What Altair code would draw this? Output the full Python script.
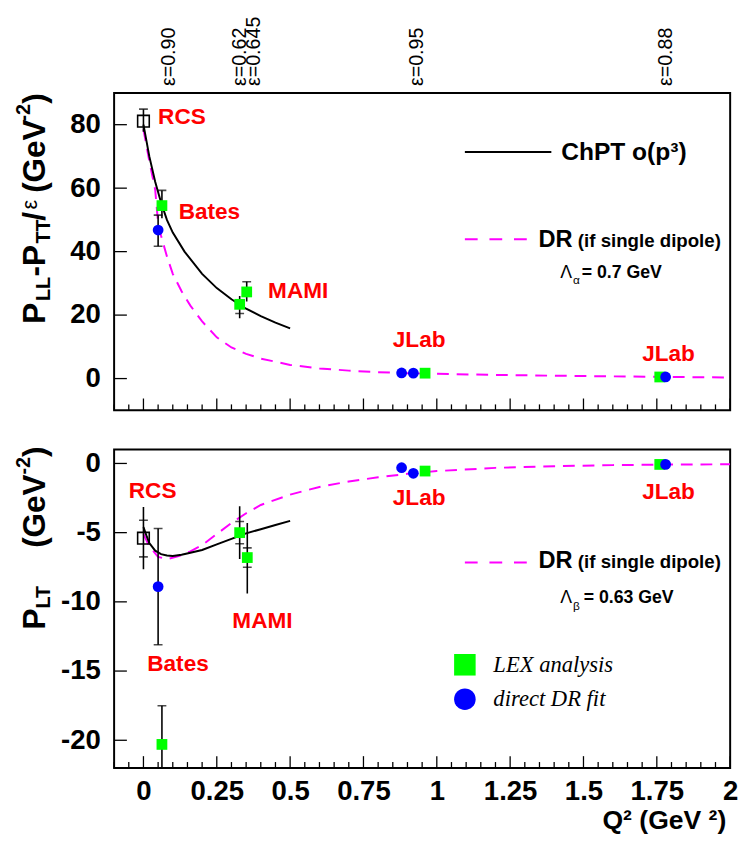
import altair as alt
import pandas as pd

# ---------------- data ----------------
X_DOMAIN = [-0.1, 2.0]
TOP_Y_DOMAIN = [-10, 90]
BOT_Y_DOMAIN = [-22, 1]

x_major = [0, 0.25, 0.5, 0.75, 1.0, 1.25, 1.5, 1.75, 2.0]
x_minor = [-0.1, -0.05, 0.05, 0.1, 0.15, 0.2, 0.3, 0.35, 0.4, 0.45, 0.55, 0.6, 0.65, 0.7,
           0.8, 0.85, 0.9, 0.95, 1.05, 1.1, 1.15, 1.2, 1.3, 1.35, 1.4, 1.45, 1.55, 1.6,
           1.65, 1.7, 1.8, 1.85, 1.9, 1.95]
top_y_ticks = [0, 20, 40, 60, 80]
bot_y_ticks = [0, -5, -10, -15, -20]

# top panel: P_LL - P_TT/eps
top_chpt_x = [0, 0.02, 0.04, 0.06, 0.08, 0.1, 0.14, 0.2, 0.25, 0.3, 0.35, 0.4, 0.45, 0.5]
top_chpt_y = [80, 70, 62, 55.5, 50, 46, 40, 33, 28.5, 25, 22, 19.7, 17.6, 15.8]
top_drc_x = [0, 0.02, 0.04, 0.05, 0.06, 0.08, 0.1, 0.13, 0.16, 0.2, 0.25, 0.3, 0.35, 0.4,
             0.5, 0.6, 0.7, 0.8, 0.9, 1.0, 1.2, 1.4, 1.6, 1.8, 2.0]
top_drc_y = [78.5, 68.5, 59.5, 49, 45, 38.5, 33, 27.5, 23, 18, 13, 9.8, 7.8, 6.3,
             4.3, 3.2, 2.5, 2.0, 1.7, 1.5, 1.15, 0.9, 0.7, 0.5, 0.35]

top_lex_x = [0.063, 0.328, 0.352, 0.96, 1.76]
top_lex_y = [54.5, 23.4, 27.3, 1.7, 0.5]
top_fit_x = [0.05, 0.88, 0.92, 1.78]
top_fit_y = [46.8, 1.76, 1.7, 0.5]
top_rcs_x = [0.0]
top_rcs_y = [81.1]
top_err_x = [0.0, 0.063, 0.05, 0.328, 0.352]
top_err_lo = [77.8, 50.5, 41.7, 19.0, 24.3]
top_err_hi = [84.9, 59.3, 51.5, 26.0, 30.5]
top_cap_x = [0.0, 0.063, 0.05, 0.05, 0.328, 0.352]
top_cap_y = [84.9, 59.3, 51.5, 41.7, 20.5, 30.5]

top_lab = ["RCS", "Bates", "MAMI", "JLab", "JLab"]
top_lab_x = [0.05, 0.12, 0.425, 0.85, 1.70]
top_lab_y = [82.4, 52.6, 27.4, 12.0, 7.7]

eps_lab = ["ε=0.90", "ε=0.62", "ε=0.645", "ε=0.95", "ε=0.88"]
eps_x = [0.087, 0.328, 0.378, 0.934, 1.78]

# bottom panel: P_LT
bot_chpt_x = [0, 0.01, 0.02, 0.04, 0.06, 0.08, 0.1, 0.13, 0.16, 0.2, 0.25, 0.3, 0.35, 0.4, 0.45, 0.5]
bot_chpt_y = [-4.6, -5.2, -5.75, -6.3, -6.55, -6.65, -6.68, -6.6, -6.45, -6.25, -5.85,
              -5.45, -5.05, -4.75, -4.45, -4.15]
bot_drc_x = [0, 0.02, 0.05, 0.08, 0.12, 0.16, 0.2, 0.25, 0.3, 0.35, 0.4, 0.5, 0.6, 0.7,
             0.8, 0.9, 1.0, 1.2, 1.4, 1.6, 1.8, 2.0]
bot_drc_y = [-5.1, -6.0, -6.75, -6.92, -6.7, -6.35, -5.9, -5.1, -4.3, -3.6, -3.0, -2.25,
             -1.7, -1.3, -1.0, -0.75, -0.55, -0.32, -0.2, -0.12, -0.08, -0.06]

bot_lex_x = [0.063, 0.328, 0.354, 0.96, 1.76]
bot_lex_y = [-20.3, -5.0, -6.8, -0.55, -0.07]
bot_fit_x = [0.05, 0.88, 0.92, 1.78]
bot_fit_y = [-8.9, -0.31, -0.71, -0.07]
bot_rcs_x = [0.0]
bot_rcs_y = [-5.4]
bot_err_x = [0.0, 0.05, 0.063, 0.328, 0.354]
bot_err_lo = [-7.65, -13.1, -23.1, -6.9, -9.4]
bot_err_hi = [-3.15, -4.7, -17.5, -3.1, -4.3]
bot_cap_x = [0.0, 0.0, 0.05, 0.05, 0.063, 0.328, 0.328, 0.354, 0.354]
bot_cap_y = [-4.1, -6.75, -4.7, -13.1, -17.5, -4.2, -5.8, -6.1, -7.5]

bot_lab = ["RCS", "Bates", "MAMI", "JLab", "JLab"]
bot_lab_x = [-0.05, 0.013, 0.303, 0.85, 1.70]
bot_lab_y = [-1.97, -14.5, -11.4, -2.5, -2.06]

# ---------------- styling ----------------
W = 627
H_TOP = 323
H_BOT = 324
FONT = "Liberation Sans"
GREEN = "#00ff00"
BLUE = "#0000ff"
MAGENTA = "#ff00ff"
RED = "#ff0000"
ONE = pd.DataFrame({"k": [0]})


def xenc(axis, field="x"):
    return alt.X(f"{field}:Q", scale=alt.Scale(domain=X_DOMAIN, nice=False, zero=False), axis=axis)


def yenc(dom, axis, field="y"):
    return alt.Y(f"{field}:Q", scale=alt.Scale(domain=dom, nice=False, zero=False), axis=axis)


def ptext(txt, x, y, size, weight="bold", color="black", align="left", baseline="middle",
          angle=0, font=FONT, style="normal"):
    return alt.Chart(ONE).mark_text(
        text=txt, align=align, baseline=baseline, fontSize=size, fontWeight=weight,
        color=color, font=font, fontStyle=style, angle=angle
    ).encode(x=alt.value(x), y=alt.value(y))


def panel(dom, yticks, H, chpt_x, chpt_y, drc_x, drc_y, lex_x, lex_y, fit_x, fit_y,
          rcs_x, rcs_y, err_x, err_lo, err_hi, cap_x, cap_y, lab, lab_x, lab_y, xlab_size,
          xlab_pad):
    xa = alt.Axis(values=x_major, labelExpr="datum.value + ''", ticks=False, domain=False,
                  grid=False, labelFont=FONT, labelFontWeight="bold", labelFontSize=xlab_size,
                  labelPadding=xlab_pad, labelFlush=False, labelColor="black", title=None)
    ya = alt.Axis(values=yticks, labelExpr="datum.value + ''", ticks=False, domain=False,
                  grid=False, labelFont=FONT, labelFontWeight="bold", labelFontSize=28,
                  labelPadding=14, labelFlush=False, labelColor="black", title=None)
    X = lambda f="x": xenc(xa, f)
    Y = lambda f="y": yenc(dom, ya, f)

    layers = []
    layers.append(alt.Chart(pd.DataFrame({"x": drc_x, "y": drc_y})).mark_line(
        color=MAGENTA, strokeWidth=2, strokeDash=[12, 8], clip=True).encode(x=X(), y=Y()))
    layers.append(alt.Chart(pd.DataFrame({"x": chpt_x, "y": chpt_y})).mark_line(
        color="black", strokeWidth=2, clip=True).encode(x=X(), y=Y()))
    layers.append(alt.Chart(pd.DataFrame({"x": err_x, "lo": err_lo, "hi": err_hi})).mark_rule(
        color="black", strokeWidth=1.6, clip=True).encode(x=X(), y=Y("lo"), y2="hi:Q"))
    layers.append(alt.Chart(pd.DataFrame({"x": cap_x, "y": cap_y})).mark_tick(
        color="black", orient="horizontal", size=9, thickness=1.6, clip=True).encode(x=X(), y=Y()))
    layers.append(alt.Chart(pd.DataFrame({"x": rcs_x, "y": rcs_y})).mark_point(
        shape="square", filled=False, color="black", strokeWidth=1.6, size=140, opacity=1).encode(x=X(), y=Y()))
    layers.append(alt.Chart(pd.DataFrame({"x": lex_x, "y": lex_y})).mark_point(
        shape="square", filled=True, color=GREEN, size=120, opacity=1).encode(x=X(), y=Y()))
    layers.append(alt.Chart(pd.DataFrame({"x": fit_x, "y": fit_y})).mark_point(
        shape="circle", filled=True, color=BLUE, size=120, opacity=1).encode(x=X(), y=Y()))
    layers.append(alt.Chart(pd.DataFrame({"x": lab_x, "y": lab_y, "t": lab})).mark_text(
        align="left", baseline="middle", font=FONT, fontWeight="bold", fontSize=23, color=RED
    ).encode(x=X(), y=Y(), text="t:N"))
    # inward ticks
    layers.append(alt.Chart(pd.DataFrame({"y": yticks})).mark_rule(color="black", strokeWidth=1.3)
                  .encode(y=Y(), x=alt.value(0), x2=alt.value(13)))
    layers.append(alt.Chart(pd.DataFrame({"x": x_major})).mark_rule(color="black", strokeWidth=1.3)
                  .encode(x=X(), y=alt.value(H), y2=alt.value(H - 12)))
    layers.append(alt.Chart(pd.DataFrame({"x": x_minor})).mark_rule(color="black", strokeWidth=1.3)
                  .encode(x=X(), y=alt.value(H), y2=alt.value(H - 6)))
    return layers


top_layers = panel(TOP_Y_DOMAIN, top_y_ticks, H_TOP, top_chpt_x, top_chpt_y, top_drc_x, top_drc_y,
                   top_lex_x, top_lex_y, top_fit_x, top_fit_y, top_rcs_x, top_rcs_y,
                   top_err_x, top_err_lo, top_err_hi, top_cap_x, top_cap_y,
                   top_lab, top_lab_x, top_lab_y, 25, 12)

# epsilon labels above the top frame
top_layers.append(alt.Chart(pd.DataFrame({"x": eps_x, "t": eps_lab})).mark_text(
    align="left", baseline="middle", angle=270, font=FONT, fontSize=20, color="black"
).encode(x=xenc(None), y=alt.value(-7), text="t:N"))

# legend in top panel
top_layers += [
    alt.Chart(ONE).mark_rule(color="black", strokeWidth=2).encode(
        x=alt.value(357), x2=alt.value(445), y=alt.value(60)),
    ptext("ChPT o(p³)", 455, 60, 25),
    alt.Chart(ONE).mark_rule(color=MAGENTA, strokeWidth=2, strokeDash=[13, 12]).encode(
        x=alt.value(357), x2=alt.value(425), y=alt.value(149)),
    ptext("DR", 432, 150, 24),
    ptext("(if single dipole)", 472, 151, 19),
    ptext("Λ", 454, 183, 18, weight="normal"),
    ptext("α", 467, 190, 12, weight="normal"),
    ptext("= 0.7 GeV", 476, 183, 18),
]
# y title top: P_LL - P_TT / eps (GeV^-2)
for txt, xx, yy, sz, wt in [("P", -70, 235, 32, "bold"), ("LL", -65, 211.7, 20, "bold"),
                            ("-P", -70, 186.7, 32, "bold"), ("TT", -65, 153.3, 20, "bold"),
                            ("/", -70, 130, 32, "bold"), ("ε", -78, 118.7, 22, "normal"),
                            ("(GeV", -70, 101.7, 32, "bold"), ("-2", -86, 29, 20, "bold"),
                            (")", -70, 11, 32, "bold")]:
    top_layers.append(ptext(txt, xx, yy, sz, weight=wt, angle=270, baseline="alphabetic"))

bot_layers = panel(BOT_Y_DOMAIN, bot_y_ticks, H_BOT, bot_chpt_x, bot_chpt_y, bot_drc_x, bot_drc_y,
                   bot_lex_x, bot_lex_y, bot_fit_x, bot_fit_y, bot_rcs_x, bot_rcs_y,
                   bot_err_x, bot_err_lo, bot_err_hi, bot_cap_x, bot_cap_y,
                   bot_lab, bot_lab_x, bot_lab_y, 28, 10)
bot_layers += [
    alt.Chart(ONE).mark_rule(color=MAGENTA, strokeWidth=2, strokeDash=[13, 12]).encode(
        x=alt.value(357), x2=alt.value(425), y=alt.value(115)),
    ptext("DR", 432, 114, 24),
    ptext("(if single dipole)", 472, 115, 19),
    ptext("Λ", 454, 151, 18, weight="normal"),
    ptext("β", 467, 159, 12, weight="normal"),
    ptext("= 0.63 GeV", 478, 151, 18),
    alt.Chart(ONE).mark_point(shape="square", filled=True, color=GREEN, size=480, opacity=1).encode(
        x=alt.value(357), y=alt.value(219)),
    alt.Chart(ONE).mark_point(shape="circle", filled=True, color=BLUE, size=480, opacity=1).encode(
        x=alt.value(357), y=alt.value(254)),
    ptext("LEX analysis", 386, 219, 23, weight="normal", font="Liberation Serif", style="italic"),
    ptext("direct DR fit", 386, 254, 23, weight="normal", font="Liberation Serif", style="italic"),
    ptext("Q² (GeV ²)", 623, 378, 27, align="right"),
]
for txt, xx, yy, sz in [("P", -70, 183, 32), ("LT", -65, 161.7, 20), ("(GeV", -70, 100, 32),
                        ("-2", -86, 25.3, 20), (")", -70, 7.5, 32)]:
    bot_layers.append(ptext(txt, xx, yy, sz, angle=270, baseline="alphabetic"))

top = alt.layer(*top_layers).properties(width=W, height=H_TOP)
bot = alt.layer(*bot_layers).properties(width=W, height=H_BOT)

chart = alt.vconcat(top, bot, spacing=40, bounds="flush").properties(
    padding={"left": 5, "top": 0, "right": 0, "bottom": 5},
    background="white",
).configure_view(stroke="black", strokeWidth=2)

chart.save("out.html", embed_options={"renderer": "svg", "actions": False})
